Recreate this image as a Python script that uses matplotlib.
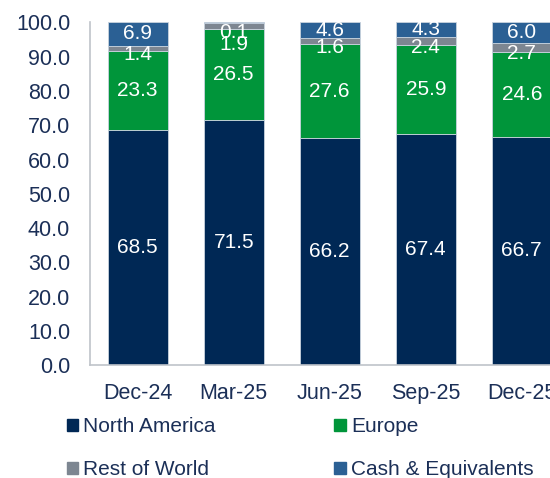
import matplotlib.pyplot as plt
import numpy as np
from matplotlib.patches import Patch

plt.rcParams['font.family'] = ['Liberation Sans', 'DejaVu Sans']

quarters = ['Dec-24', 'Mar-25', 'Jun-25', 'Sep-25', 'Dec-25']
north_america = [68.5, 71.5, 66.2, 67.4, 66.7]
europe = [23.3, 26.5, 27.6, 25.9, 24.6]
rest_of_world = [1.4, 1.9, 1.6, 2.4, 2.7]
cash = [6.9, 0.1, 4.6, 4.3, 6.0]

series = [
    ('North America', north_america, '#002855'),
    ('Europe', europe, '#00953A'),
    ('Rest of World', rest_of_world, '#7D8691'),
    ('Cash & Equivalents', cash, '#2B6094'),
]
text_color = '#1B2F57'

# vertical nudge (points) of the data labels in the thin top segments,
# so they don't sit on top of each other like in the original
nudge = {
    'Rest of World': [-4.5, -13, -5, -4.5, -4.5],
    'Cash & Equivalents': [0, -7, 0, 0, 0],
}

fig = plt.figure(figsize=(5.5, 4.78), dpi=100)
ax = fig.add_axes([0.163, 0.236, 0.873, 0.717])

x = np.arange(len(quarters))
bottom = np.zeros(len(quarters))
handles = {}
for name, vals, color in series:
    vals = np.array(vals)
    ax.bar(x, vals, 0.625, bottom=bottom, color=color,
           edgecolor='#C9D3DE', linewidth=0.6)
    dy = nudge.get(name, [0] * len(vals))
    for xi, b, v, d in zip(x, bottom, vals, dy):
        ax.annotate(f'{v:.1f}', (xi, b + v / 2), xytext=(0, d),
                    textcoords='offset points', ha='center', va='center',
                    color='white', fontsize=15)
    handles[name] = Patch(color=color, label=name)
    bottom += vals

ax.set_xlim(-0.5, 4.5)
ax.set_ylim(0, 100)
ax.set_yticks(np.arange(0, 101, 10))
ax.set_yticklabels([f'{v:.1f}' for v in np.arange(0, 101, 10)])
ax.set_xticks(x)
ax.set_xticklabels(quarters)
ax.tick_params(axis='both', length=0, labelsize=15.5, labelcolor=text_color)
ax.tick_params(axis='y', pad=14)
ax.tick_params(axis='x', pad=13)
for s in ['top', 'right']:
    ax.spines[s].set_visible(False)
for s in ['left', 'bottom']:
    ax.spines[s].set_color('#BFC4CA')
    ax.spines[s].set_linewidth(1.2)

order = ['North America', 'Rest of World', 'Europe', 'Cash & Equivalents']
leg = fig.legend(handles=[handles[n] for n in order], ncol=2,
                 loc='upper left', bbox_to_anchor=(0.121, 0.127),
                 frameon=False, fontsize=15, handlelength=0.55,
                 handleheight=0.55, handletextpad=0.25, columnspacing=5.7,
                 labelspacing=1.16, borderaxespad=0, borderpad=0)
for t in leg.get_texts():
    t.set_color(text_color)

fig.savefig('out.png', dpi=100)
